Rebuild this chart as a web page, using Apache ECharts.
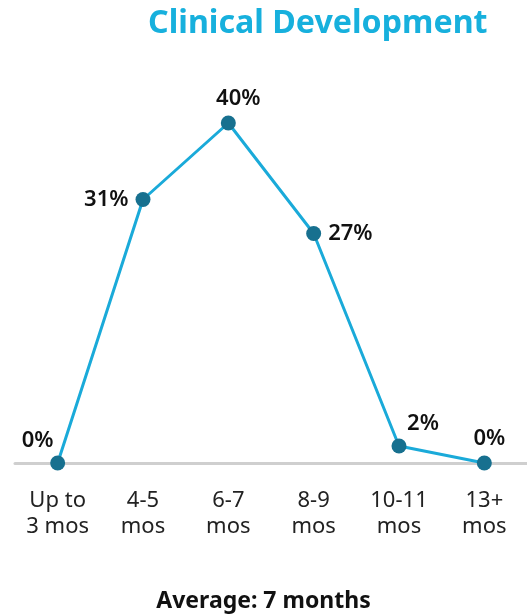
<!DOCTYPE html>
<html>
<head>
<meta charset="utf-8">
<style>
  html, body { margin: 0; padding: 0; background: #fff; }
  #chart { width: 527px; height: 616px; }
</style>
<script src="https://cdn.jsdelivr.net/npm/echarts@6/dist/echarts.min.js"></script>
</head>
<body>
<div id="chart"></div>
<script>
// Time spent in clinical development, share of respondents per bucket
const categories = ['Up to\n3 mos', '4-5\nmos', '6-7\nmos', '8-9\nmos', '10-11\nmos', '13+\nmos'];
const shares = [0, 31, 40, 27, 2, 0];
// where each value label sits relative to its point: [position, offset]
const labelPlacement = [
  ['top', [-20, 2]],
  ['left', [-1, 0]],
  ['top', [10, 0]],
  ['right', [1, 0]],
  ['top', [24, 2]],
  ['top', [5, 0]]
];

const chart = echarts.init(document.getElementById('chart'));
const font = '"Noto Sans", sans-serif';

chart.setOption({
  animation: false,
  title: {
    text: 'Clinical Development',
    left: 143,
    top: 3,
    textStyle: { fontFamily: font, fontSize: 32.2, fontWeight: 'bold', color: '#17b0dd' }
  },
  graphic: [{
    type: 'text',
    left: 'center',
    top: 590,
    style: { text: 'Average: 7 months', fontFamily: font, fontSize: 23, fontWeight: 'bold', fill: '#111' }
  }],
  grid: { left: 15, width: 516, top: 123, bottom: 153, containLabel: false },
  xAxis: {
    type: 'category',
    data: categories,
    boundaryGap: true,
    axisLine: { lineStyle: { color: '#cfcfcf', width: 3 } },
    axisTick: { show: false },
    axisLabel: {
      margin: 25,
      fontFamily: font,
      fontSize: 22,
      color: '#222',
      lineHeight: 26
    }
  },
  yAxis: {
    type: 'value',
    min: 0,
    max: 40,
    show: false,
    splitLine: { show: false }
  },
  series: [{
    type: 'line',
    data: shares.map((v, i) => ({
      value: v,
      label: { position: labelPlacement[i][0], offset: labelPlacement[i][1] }
    })),
    symbol: 'circle',
    symbolSize: 15,
    clip: false,
    z: 3,
    lineStyle: { color: '#1aaad9', width: 3 },
    itemStyle: { color: '#17708f' },
    label: {
      show: true,
      formatter: p => p.value + '%',
      fontFamily: font,
      fontSize: 22,
      fontWeight: 600,
      color: '#111',
      distance: 6
    }
  }]
});
</script>
</body>
</html>
